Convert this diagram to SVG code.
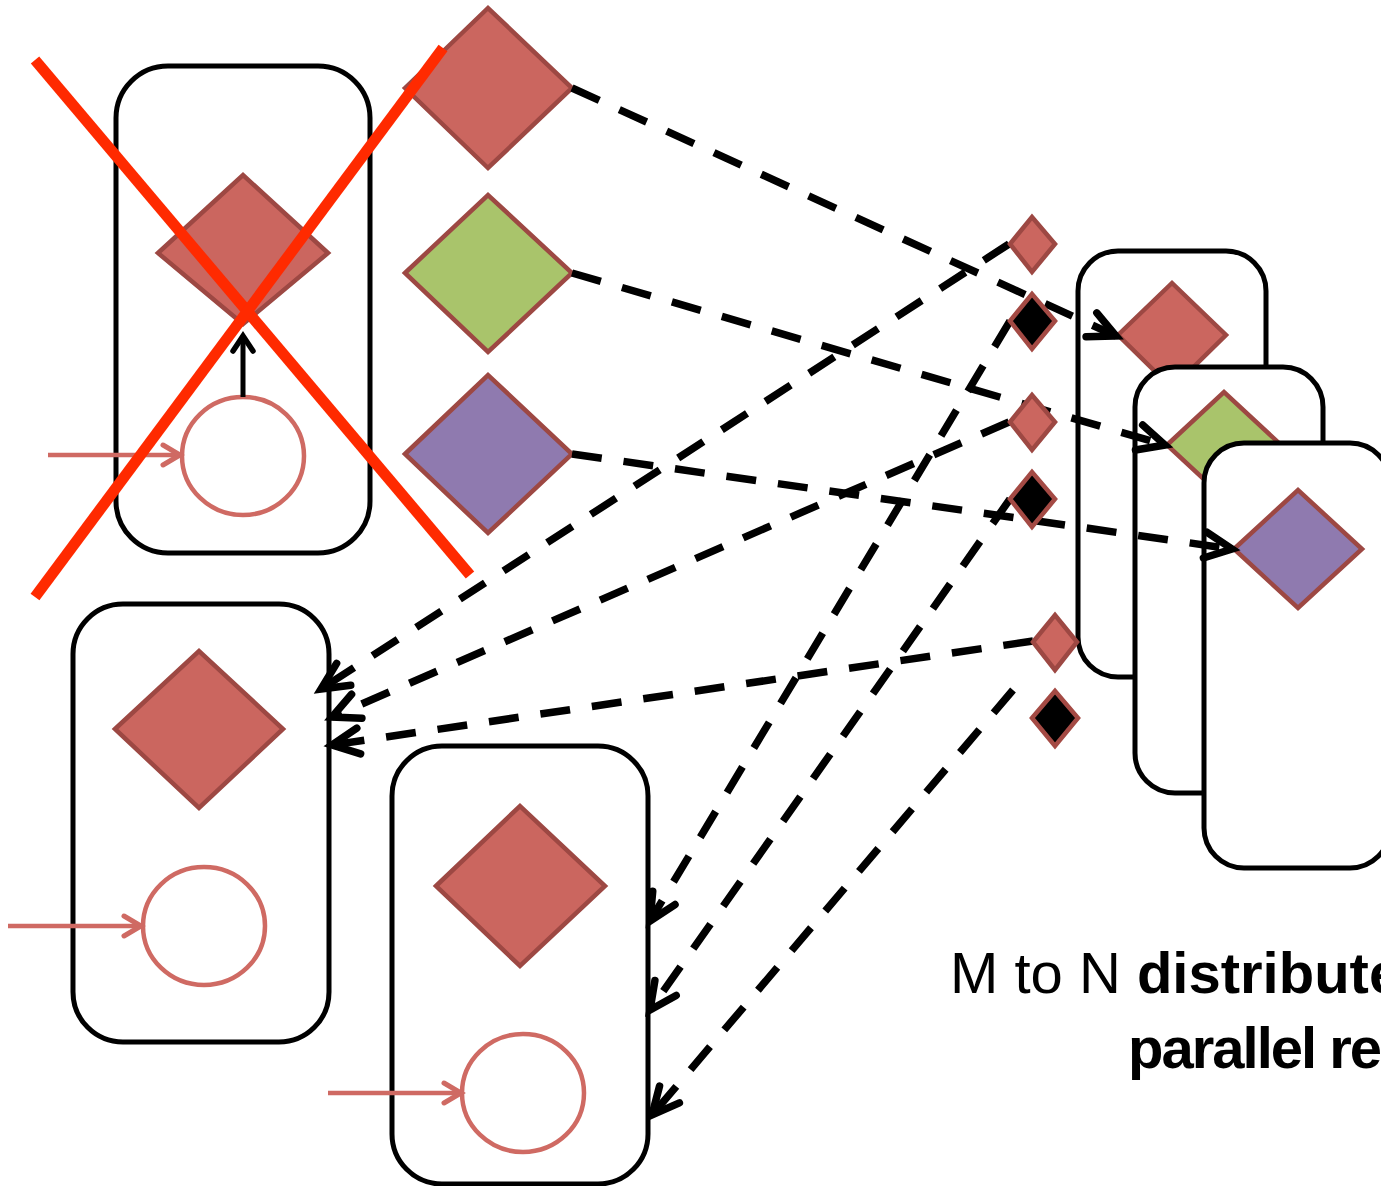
<svg xmlns="http://www.w3.org/2000/svg" width="1381" height="1186" viewBox="0 0 1381 1186">
  <style>
    .box { fill: #ffffff; stroke: #000000; stroke-width: 5; }
    .dia-red { fill: #cb665f; stroke: #9d4843; stroke-width: 4.5; stroke-linejoin: miter; }
    .dia-green { fill: #a9c46b; stroke: #9d4843; stroke-width: 4.5; }
    .dia-purple { fill: #8f7aaf; stroke: #9d4843; stroke-width: 4.5; }
    .dia-black { fill: #000000; stroke: #a44a44; stroke-width: 4.5; }
    .state { fill: #ffffff; stroke: #cf6a63; stroke-width: 4.5; }
    .feed { fill: none; stroke: #cf6a63; stroke-width: 4.5; marker-end: url(#arrPink); }
    .flow { fill: none; stroke: #000000; stroke-width: 7.5; stroke-dasharray: 30 22; marker-end: url(#arrDash); }
    .up { fill: none; stroke: #000000; stroke-width: 5; marker-end: url(#arrUp); }
    .cross { stroke: #ff2a00; stroke-width: 11; }
    .label { font-family: "Liberation Sans", Arial, sans-serif; font-size: 58px; fill: #000000; }
    .b { font-weight: bold; }
  </style>
  <defs>
    <marker id="arrDash" markerUnits="userSpaceOnUse" refX="0" refY="0" markerWidth="60" markerHeight="60" orient="auto" overflow="visible">
      <path d="M-27,-13 L0,0 L-27,13" fill="none" stroke="#000000" stroke-width="7.5" stroke-linecap="round" stroke-linejoin="miter"/>
    </marker>
    <marker id="arrUp" markerUnits="userSpaceOnUse" refX="0" refY="0" markerWidth="40" markerHeight="40" orient="auto" overflow="visible">
      <path d="M-15,-10 L0,0 L-15,10" fill="none" stroke="#000000" stroke-width="5.5" stroke-linecap="round"/>
    </marker>
    <marker id="arrPink" markerUnits="userSpaceOnUse" refX="0" refY="0" markerWidth="40" markerHeight="40" orient="auto" overflow="visible">
      <path d="M-17,-10 L0,0 L-17,10" fill="none" stroke="#cf6a63" stroke-width="5" stroke-linecap="round"/>
    </marker>
  </defs>

  <rect width="1381" height="1186" fill="#ffffff"/>

  <!-- failed operator replica (crossed out) -->
  <g id="node-failed">
    <rect class="box" x="116" y="66" width="254" height="487" rx="52"/>
    <polygon class="dia-red" points="158,253 243,175 328,253 243,324"/>
    <ellipse class="state" cx="243" cy="456" rx="61" ry="59"/>
    <line class="up" x1="243" y1="397" x2="243" y2="336"/>
    <line class="feed" x1="48" y1="455" x2="180" y2="455"/>
  </g>

  <!-- upstream outputs -->
  <g id="node-out-red">
    <polygon class="dia-red" points="405,88 488,8 572,88 488,168"/>
  </g>
  <g id="node-out-green">
    <polygon class="dia-green" points="405,273 488,195 572,273 488,352"/>
  </g>
  <g id="node-out-purple">
    <polygon class="dia-purple" points="405,454 488,375 572,454 488,533"/>
  </g>

  <!-- replacement replicas -->
  <g id="node-replica-1">
    <rect class="box" x="73" y="604" width="256" height="438" rx="50"/>
    <polygon class="dia-red" points="115,729 199,651 283,729 199,808"/>
    <ellipse class="state" cx="204" cy="926" rx="61" ry="59"/>
    <line class="feed" x1="8" y1="926" x2="141" y2="926"/>
  </g>
  <g id="node-replica-2">
    <rect class="box" x="392" y="746" width="256" height="438" rx="50"/>
    <polygon class="dia-red" points="436,886 520,806 605,886 520,966"/>
    <ellipse class="state" cx="523" cy="1093" rx="61" ry="59"/>
    <line class="feed" x1="328" y1="1093" x2="461" y2="1093"/>
  </g>

  <!-- downstream parallel stack -->
  <g id="node-down-1">
    <rect class="box" x="1078" y="251" width="188" height="426" rx="40"/>
    <polygon class="dia-red" points="1118,335 1172,283 1226,335 1172,388"/>
  </g>
  <g id="node-down-2">
    <rect class="box" x="1135" y="367" width="188" height="426" rx="40"/>
    <polygon class="dia-green" points="1167,445 1224,392 1281,445 1224,498"/>
  </g>
  <g id="node-down-3">
    <rect class="box" x="1204" y="443" width="186" height="425" rx="40"/>
    <polygon class="dia-purple" points="1234,549 1298,490 1362,549 1298,608"/>
  </g>

  <!-- dashed data flows -->
  <g id="connectors">
    <line class="flow" x1="572" y1="88" x2="1116" y2="336"/>
    <line class="flow" x1="572" y1="273" x2="1165" y2="445"/>
    <line class="flow" x1="572" y1="454" x2="1232" y2="549"/>
    <line class="flow" x1="1009" y1="244" x2="321" y2="689"/>
    <line class="flow" x1="1009" y1="422" x2="332" y2="717"/>
    <line class="flow" x1="1033" y1="641" x2="332" y2="745"/>
    <line class="flow" x1="1010" y1="321" x2="650" y2="921"/>
    <line class="flow" x1="1010" y1="499" x2="650" y2="1010"/>
    <line class="flow" x1="1013" y1="690" x2="652" y2="1115"/>
  </g>

  <!-- routing tokens -->
  <g id="node-token-r1"><polygon class="dia-red" points="1010,244 1032,217 1055,244 1032,272"/></g>
  <g id="node-token-b1"><polygon class="dia-black" points="1010,321 1032,294 1055,321 1032,349"/></g>
  <g id="node-token-r2"><polygon class="dia-red" points="1010,422 1032,395 1055,422 1032,450"/></g>
  <g id="node-token-b2"><polygon class="dia-black" points="1010,499 1032,472 1055,499 1032,527"/></g>
  <g id="node-token-r3"><polygon class="dia-red" points="1033,642 1055,615 1077,642 1055,670"/></g>
  <g id="node-token-b3"><polygon class="dia-black" points="1032,718 1055,691 1078,718 1055,746"/></g>

  <!-- crossed-out mark -->
  <g id="cross">
    <line class="cross" x1="35" y1="60" x2="470" y2="575"/>
    <line class="cross" x1="35" y1="597" x2="443" y2="48"/>
  </g>

  <g id="caption">
    <text class="label" x="950" y="993">M to N <tspan class="b">distribute</tspan></text>
    <text class="label b" x="1128" y="1068" letter-spacing="-2">parallel re</text>
  </g>
</svg>
